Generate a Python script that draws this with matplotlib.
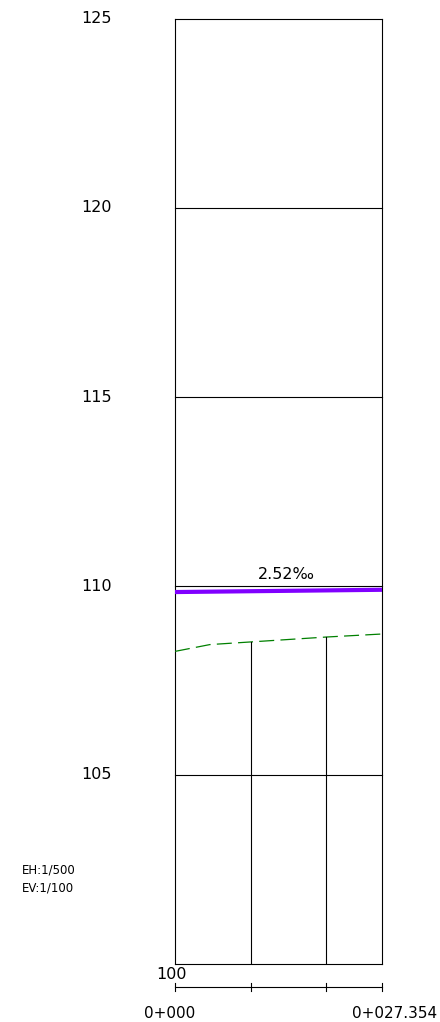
import numpy as np
import matplotlib.pyplot as plt

# stations (m) and elevations (m)
grid_levels = [105, 110, 115, 120, 125]
y_labels = [125, 120, 115, 110, 105]
station_end = 27.354
sta_ticks = [0, 10, 20, 27.354]
sta_labels = ['0+000', '0+027.354']

grade_sta = [0, 27.354]
grade_elev = [109.84, 109.90]
grade_text = '2.52‰'

ground_sta = [0, 4.6, 10, 20, 27.354]
ground_elev = [108.27, 108.45, 108.52, 108.65, 108.73]

W, H = 440, 1022
fig = plt.figure(figsize=(W / 100, H / 100), dpi=100)
x0, x1, ytop, ybot = 175, 382, 19, 964
ax = fig.add_axes([x0 / W, 1 - ybot / H, (x1 - x0) / W, (ybot - ytop) / H])
ax.set_xlim(0, station_end)
ax.set_ylim(100, 125)
ax.axis('off')

lc = 'black'
lw = 0.8
# frame
ax.plot([0, 0], [100, 125], color=lc, lw=lw, clip_on=False)
ax.plot([station_end, station_end], [100, 125], color=lc, lw=lw, clip_on=False)
ax.plot([0, station_end], [100, 100], color=lc, lw=lw, clip_on=False)
for g in grid_levels:
    ax.plot([0, station_end], [g, g], color=lc, lw=lw, clip_on=False)

# design grade
ax.plot(grade_sta, grade_elev, color='#8000ff', lw=3, solid_capstyle='butt')
ax.text(14.67, 110.3, grade_text, ha='center', va='center', fontsize=11.5)

# ground line
ax.plot(ground_sta, ground_elev, color='green', lw=0.9, ls=(0, (12, 5)))

# verticals at stations
for s in sta_ticks[1:-1]:
    ax.plot([s, s], [100, np.interp(s, ground_sta, ground_elev)], color=lc, lw=lw)

# station axis under the profile
ya = 99.39
ax.plot([0, station_end], [ya, ya], color=lc, lw=lw, clip_on=False)
for s in sta_ticks:
    ax.plot([s, s], [ya - 0.1, ya + 0.1], color=lc, lw=lw, clip_on=False)
ax.text(-0.66, 98.7, sta_labels[0], ha='center', va='center', fontsize=11, clip_on=False)
ax.text(station_end + 1.7, 98.7, sta_labels[1], ha='center', va='center', fontsize=11, clip_on=False)

# elevation labels
for v in y_labels:
    ax.text(-10.31, v, str(v), ha='center', va='center', fontsize=11.5, clip_on=False)
ax.text(-0.4, 99.72, '100', ha='center', va='center', fontsize=11.5, clip_on=False)

# scales
fig.text(22 / W, 1 - 870 / H, 'EH:1/500', ha='left', va='center', fontsize=8.5)
fig.text(22 / W, 1 - 888 / H, 'EV:1/100', ha='left', va='center', fontsize=8.5)

fig.savefig('out.png', dpi=100)
